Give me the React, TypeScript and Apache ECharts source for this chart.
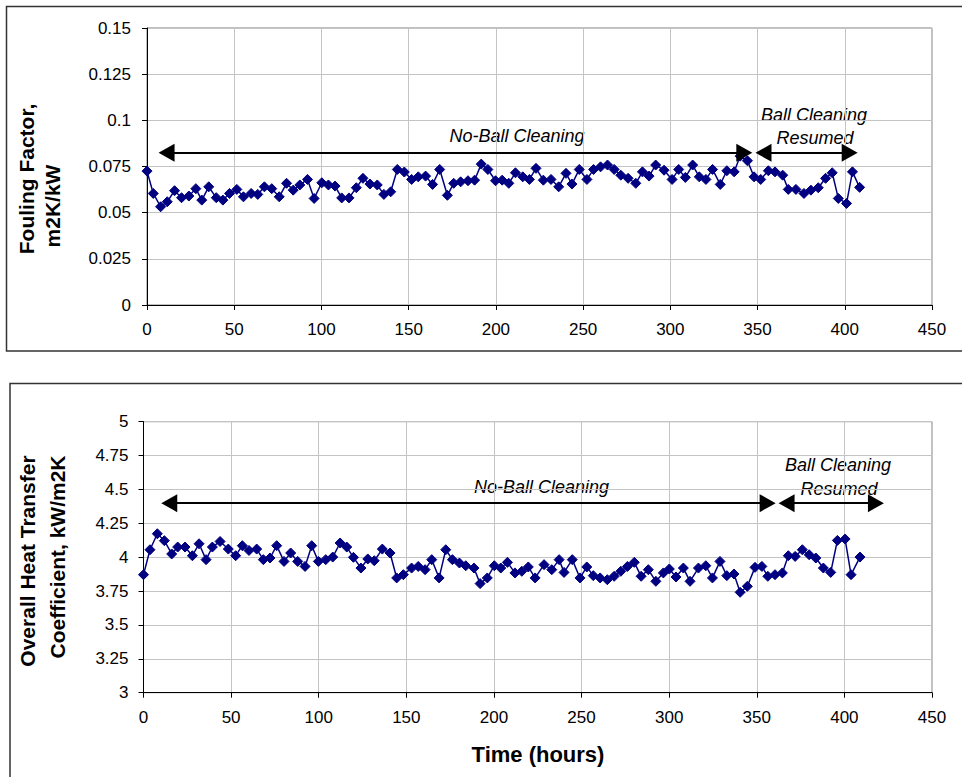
import React, { useEffect, useRef } from "react";
import * as echarts from "echarts";

// Top chart: fouling factor (m2K/kW) vs time (hours)
const foulingHours = [0, 3.6, 7.8, 11.6, 15.8, 19.8, 24, 28, 31.4, 35.4, 39.7, 43.5, 47.3, 51.5, 55.3, 59.7, 63.5, 67.3, 71.5, 75.8, 80, 83.8, 87.6, 92, 95.8, 100.2, 104, 107.8, 111.6, 115.8, 120, 123.8, 127.8, 132, 135.8, 139.7, 143.5, 147.5, 151.7, 155.5, 159.7, 163.7, 167.8, 172.2, 175.8, 179.8, 184, 187.8, 191.6, 195.4, 199.8, 203.6, 207.4, 211.2, 215.4, 219.2, 223, 227.2, 231.6, 236, 240.2, 243.6, 247.8, 252.2, 256, 260, 264, 267.8, 271.6, 275.8, 280.2, 284, 287.8, 291.6, 296.4, 301, 304.8, 308.6, 312.8, 316.6, 320.4, 324.2, 328.6, 332.4, 336.6, 340, 344.2, 348, 351.8, 356.2, 360, 364.4, 367.6, 372, 376.6, 380.6, 384.8, 389, 392.8, 396.3, 401, 404.4, 408.5];
const foulingValues = [0.0725, 0.0604, 0.0532, 0.0559, 0.0619, 0.0581, 0.059, 0.063, 0.0568, 0.064, 0.0581, 0.0568, 0.0604, 0.0626, 0.0586, 0.0604, 0.0599, 0.064, 0.063, 0.0586, 0.0659, 0.0622, 0.065, 0.068, 0.0577, 0.0662, 0.065, 0.0644, 0.058, 0.058, 0.0635, 0.0686, 0.0655, 0.065, 0.0599, 0.0613, 0.0734, 0.072, 0.068, 0.0694, 0.0698, 0.0653, 0.0734, 0.0594, 0.0659, 0.0667, 0.0673, 0.0676, 0.0763, 0.0734, 0.0673, 0.0676, 0.0659, 0.0716, 0.0694, 0.068, 0.074, 0.0676, 0.068, 0.064, 0.0713, 0.0655, 0.0734, 0.068, 0.0734, 0.0748, 0.0758, 0.0734, 0.0703, 0.0686, 0.0659, 0.0721, 0.0698, 0.0758, 0.073, 0.068, 0.0734, 0.0691, 0.0758, 0.0694, 0.068, 0.0734, 0.0653, 0.0727, 0.0721, 0.0806, 0.0781, 0.0694, 0.068, 0.0727, 0.0721, 0.0703, 0.0626, 0.0626, 0.0604, 0.0622, 0.0635, 0.0686, 0.0716, 0.0577, 0.055, 0.0721, 0.0637];

// Bottom chart: overall heat transfer coefficient (kW/m2K) vs time (hours)
const heatHours = [0, 3.7, 7.9, 11.9, 16.1, 19.5, 23.7, 27.9, 31.7, 35.7, 39.3, 43.7, 48.4, 52.6, 56.4, 60.2, 64.6, 68.4, 72.2, 76, 80.2, 84, 88, 92.2, 96, 99.8, 104, 108, 112.2, 116, 119.8, 124.1, 128, 131.7, 136.3, 140.7, 144.5, 148.3, 153, 156.8, 160.7, 164.5, 168.7, 172.5, 176.3, 180.3, 183.9, 188.6, 192.1, 196.2, 200.2, 203.9, 207.7, 212, 215.9, 219.6, 223.5, 228.6, 233, 237.2, 240, 244.7, 249.1, 253, 256.7, 260.6, 264.7, 268.6, 272.4, 276.2, 280.1, 284, 288.1, 292.4, 296.7, 300.1, 303.9, 308.1, 311.9, 316.7, 320.9, 324.7, 329, 332.9, 337, 340.5, 344.6, 349, 352.9, 356.3, 360.4, 364.6, 368, 371.9, 376, 379.9, 383.7, 388, 392.2, 396, 400.4, 403.8, 408.9];
const heatValues = [3.871, 4.055, 4.173, 4.122, 4.024, 4.075, 4.075, 4.011, 4.099, 3.982, 4.075, 4.116, 4.06, 4.011, 4.085, 4.05, 4.06, 3.982, 3.994, 4.085, 3.969, 4.031, 3.969, 3.932, 4.085, 3.969, 3.982, 4.001, 4.105, 4.075, 3.999, 3.92, 3.987, 3.974, 4.06, 4.031, 3.847, 3.871, 3.92, 3.932, 3.908, 3.982, 3.847, 4.055, 3.982, 3.957, 3.937, 3.92, 3.805, 3.847, 3.937, 3.92, 3.962, 3.884, 3.896, 3.928, 3.847, 3.945, 3.908, 3.982, 3.888, 3.982, 3.847, 3.928, 3.864, 3.847, 3.834, 3.859, 3.896, 3.932, 3.962, 3.859, 3.908, 3.822, 3.884, 3.913, 3.854, 3.92, 3.822, 3.92, 3.937, 3.847, 3.969, 3.864, 3.876, 3.741, 3.785, 3.925, 3.932, 3.859, 3.871, 3.884, 4.011, 4.006, 4.055, 4.018, 3.994, 3.92, 3.888, 4.124, 4.134, 3.871, 4.001];

// Annotation arrows: [fromHour, toHour] at a fixed level
const topArrowLevel = 0.0824;
const topArrows = [[11.2, 342.4], [353.4, 402.8]];
const bottomArrowLevel = 4.399;
const bottomArrows = [[14.7, 356.2], [367, 418]];

const FONT = "Arial, 'Liberation Sans', Helvetica, sans-serif";
const NAVY = "#000080";

function axisCommon() {
  return {
    axisLine: { show: true, lineStyle: { color: "#000", width: 1 } },
    axisTick: { show: true, length: 5, lineStyle: { color: "#000" } },
    splitLine: { show: true, lineStyle: { color: "#c4c4c4", width: 1 } },
  };
}

export default function App() {
  const ref = useRef<HTMLDivElement>(null);
  useEffect(() => {
    if (!ref.current) return;
    const chart = echarts.init(ref.current, undefined, { renderer: "svg" });
    const arrowLines = (arrows: number[][], level: number) =>
      arrows.map(([a, b]) => [{ coord: [a, level] }, { coord: [b, level] }]);
    const tick = { color: "#000", fontSize: 17, fontFamily: FONT };
    const title = { fontSize: 21, fontWeight: "bold", fontFamily: FONT, fill: "#000", textAlign: "center", textVerticalAlign: "middle" };
    const note = { fontSize: 18, fontStyle: "italic", fontFamily: FONT, fill: "#000", textAlign: "center", textVerticalAlign: "middle" };
    const option: any = {
      animation: false,
      backgroundColor: "#fff",
      grid: [
        { left: 147, top: 28, right: 30, height: 277, show: true, borderColor: "#808080", borderWidth: 1, backgroundColor: "transparent" },
        { left: 143.5, top: 421.7, right: 30, height: 271, show: true, borderColor: "#808080", borderWidth: 1, backgroundColor: "transparent" },
      ],
      xAxis: [
        { type: "value", gridIndex: 0, min: 0, max: 450, interval: 50, ...axisCommon(), axisLabel: { ...tick, margin: 16 } },
        { type: "value", gridIndex: 1, min: 0, max: 450, interval: 50, ...axisCommon(), axisLabel: { ...tick, margin: 16 } },
      ],
      yAxis: [
        { type: "value", gridIndex: 0, min: 0, max: 0.15, interval: 0.025, ...axisCommon(), axisLabel: { ...tick, margin: 16 } },
        { type: "value", gridIndex: 1, min: 3, max: 5, interval: 0.25, ...axisCommon(), axisLabel: { ...tick, margin: 15 } },
      ],
      series: [
        {
          type: "line", xAxisIndex: 0, yAxisIndex: 0,
          data: foulingHours.map((h, i) => [h, foulingValues[i]]),
          symbol: "diamond", symbolSize: 10, showSymbol: true,
          lineStyle: { color: NAVY, width: 1.5 },
          itemStyle: { color: NAVY, borderColor: NAVY },
          markLine: {
            silent: true, animation: false,
            symbol: ["triangle", "triangle"], symbolSize: [18, 16],
            label: { show: false },
            lineStyle: { color: "#000", width: 2, type: "solid" },
            itemStyle: { color: "#000" },
            data: arrowLines(topArrows, topArrowLevel),
          },
        },
        {
          type: "line", xAxisIndex: 1, yAxisIndex: 1,
          data: heatHours.map((h, i) => [h, heatValues[i]]),
          symbol: "diamond", symbolSize: 10, showSymbol: true,
          lineStyle: { color: NAVY, width: 1.5 },
          itemStyle: { color: NAVY, borderColor: NAVY },
          markLine: {
            silent: true, animation: false,
            symbol: ["triangle", "triangle"], symbolSize: [18, 16],
            label: { show: false },
            lineStyle: { color: "#000", width: 2, type: "solid" },
            itemStyle: { color: "#000" },
            data: arrowLines(bottomArrows, bottomArrowLevel),
          },
        },
      ],
      graphic: [
        { type: "rect", silent: true, shape: { x: 6.5, y: 6.5, width: 1000, height: 344.5 }, style: { fill: "none", stroke: "#333", lineWidth: 1.5 } },
        { type: "rect", silent: true, shape: { x: 10, y: 383.5, width: 1000, height: 500 }, style: { fill: "none", stroke: "#333", lineWidth: 1.5 } },
        // axis titles
        { type: "text", x: 26, y: 179, rotation: Math.PI / 2, style: { text: "Fouling Factor,", ...title } },
        { type: "text", x: 52, y: 206, rotation: Math.PI / 2, style: { text: "m2K/kW", ...title } },
        { type: "text", x: 27.5, y: 561, rotation: Math.PI / 2, style: { text: "Overall Heat Transfer", ...title } },
        { type: "text", x: 57.5, y: 557, rotation: Math.PI / 2, style: { text: "Coefficient, kW/m2K", ...title } },
        { type: "text", x: 538, y: 754.5, style: { text: "Time (hours)", ...title, fontSize: 22 } },
        // annotations
        { type: "text", x: 517, y: 136, style: { text: "No-Ball Cleaning", ...note } },
        { type: "text", x: 814, y: 115, style: { text: "Ball Cleaning", ...note } },
        { type: "text", x: 815, y: 137.5, style: { text: "Resumed", ...note } },
        { type: "text", x: 541.5, y: 487, style: { text: "No-Ball Cleaning", ...note } },
        { type: "text", x: 838, y: 465, style: { text: "Ball Cleaning", ...note } },
        { type: "text", x: 839, y: 489, style: { text: "Resumed", ...note } },
      ],
    };
    chart.setOption(option);
    return () => chart.dispose();
  }, []);
  return (
    <div style={{ position: "fixed", left: 0, top: 0, width: 962, height: 777, background: "#fff" }}>
      <div ref={ref} style={{ width: 962, height: 777 }} />
    </div>
  );
}
